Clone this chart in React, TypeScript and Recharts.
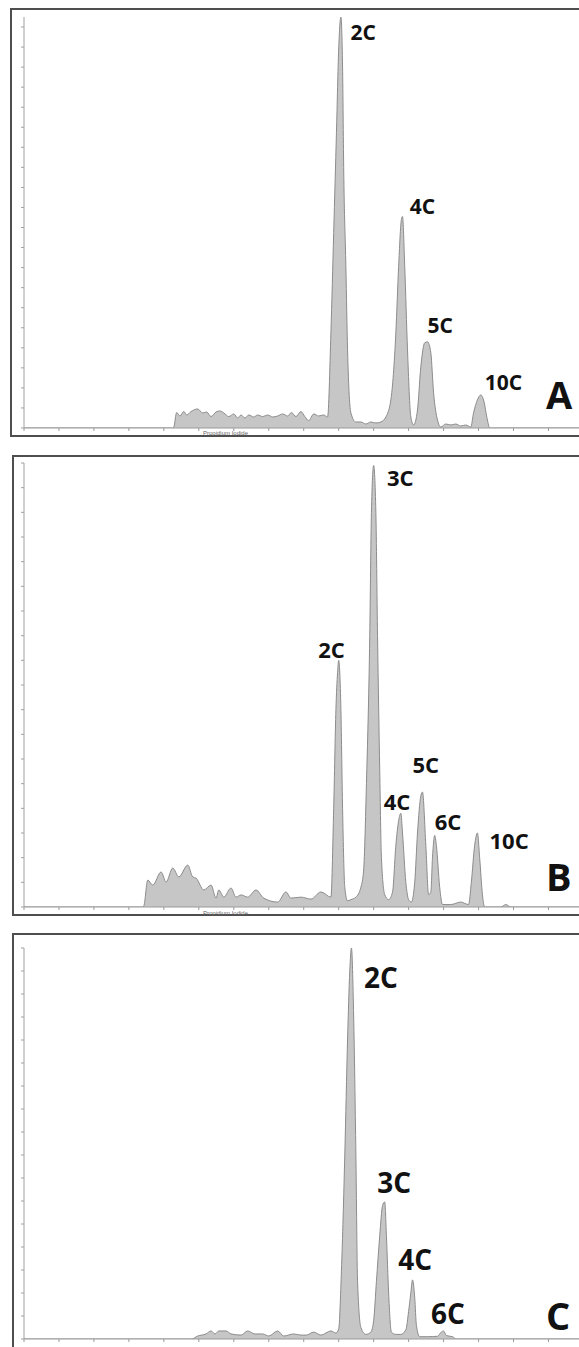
import { AreaChart, Area, XAxis, YAxis, ReferenceDot } from "recharts";

// PI histograms: [channel (0-1000), events]
const histA: [number, number][] = [
  [0, 0], [268, 0], [270, 0.5], [275, 7.7], [281, 6], [288, 8.2], [293, 6.5], [301, 8.2],
  [313, 9.5], [322, 7.5], [329, 8], [337, 5.7], [346, 8], [353, 8.5], [360, 7.5], [369, 5.7],
  [378, 7], [385, 5], [391, 6.5], [398, 5], [405, 6.5], [414, 5.5], [421, 6.5], [430, 5.7],
  [439, 6.5], [448, 5.5], [457, 6], [466, 7], [475, 6], [482, 7.7], [490, 5.7], [499, 8.2],
  [506, 5.7], [513, 3.7], [522, 7], [531, 6], [540, 6.5], [547, 5.5], [553, 47.5], [558, 97.5],
  [563, 147.5], [567, 189], [571, 205], [574, 180], [576, 130], [580, 80], [583, 39], [589, 7.5],
  [598, 3], [607, 3], [616, 2], [625, 3], [634, 2.5], [643, 3], [652, 5.5], [661, 14],
  [670, 47.5], [675, 80.5], [680, 104], [682, 105.5], [686, 80.5], [691, 39], [697, 5.5], [702, 1.5],
  [709, 9], [715, 30.5], [722, 42.5], [727, 43], [733, 37.5], [738, 17.5], [745, 4], [751, 0.5],
  [760, 2], [769, 1.5], [778, 2], [787, 1], [796, 1.5], [805, 0.5], [810, 7.5], [817, 14],
  [823, 16.5], [828, 14], [835, 4], [839, 0], [1000, 0],
];

const histB: [number, number][] = [
  [0, 0], [214, 0], [216, 0.5], [223, 10.9], [232, 8.9], [247, 14.2], [256, 10.1], [268, 15.8],
  [279, 12.2], [295, 17], [304, 12.2], [310, 11.7], [324, 6.9], [337, 8.9], [346, 3.6], [351, 6.9],
  [360, 4], [373, 7.7], [382, 4], [391, 4.9], [403, 4], [418, 6.9], [432, 3.6], [457, 2],
  [472, 6.1], [481, 3.6], [499, 4], [517, 3.2], [535, 6.1], [553, 4], [558, 40], [562, 80],
  [565, 95], [567, 100], [571, 80], [574, 40], [578, 8], [583, 2.5], [589, 3], [598, 4],
  [607, 8], [612, 15], [617, 50], [623, 110], [626, 160], [630, 179], [634, 160], [637, 110],
  [641, 55], [644, 20], [650, 5], [657, 3], [664, 6], [670, 25], [675, 35], [679, 38],
  [682, 30], [688, 10], [693, 3], [698, 2], [704, 10], [709, 30], [715, 45], [718, 46.6],
  [724, 25], [729, 5], [733, 6], [736, 20], [740, 29], [743, 25], [749, 8], [754, 1],
  [769, 1], [787, 2], [801, 1], [806, 10], [812, 25], [817, 30], [821, 20], [826, 5],
  [830, 0], [859, 0], [868, 1], [877, 0], [1000, 0],
];

const histC: [number, number][] = [
  [0, 0], [302, 0], [313, 1.3], [328, 2.2], [337, 3.5], [344, 2.2], [351, 3.5], [364, 3.5],
  [373, 2.2], [391, 1.7], [403, 3.5], [416, 2.2], [430, 2.2], [441, 1.3], [457, 3.5], [468, 1.3],
  [486, 2.2], [499, 1.7], [509, 1.7], [522, 3], [535, 1.7], [553, 3.5], [562, 2.6], [567, 4.3],
  [572, 30], [578, 80], [583, 130], [587, 160], [590, 170], [594, 140], [598, 80], [601, 25],
  [607, 5], [616, 2], [625, 3], [630, 8], [635, 25], [641, 45], [646, 58], [650, 59.6],
  [653, 45], [657, 20], [662, 3], [670, 2], [679, 2], [688, 4], [693, 12], [697, 20],
  [700, 25.7], [704, 18], [707, 6], [713, 1], [727, 1], [745, 1.2], [752, 3], [756, 3.5],
  [761, 1.5], [772, 1], [779, 0], [1000, 0],
];

// peak labels, placed in data space
const labelsA = [
  { text: "2C", ch: 611, count: 197 },
  { text: "4C", ch: 718, count: 110.7 },
  { text: "5C", ch: 750, count: 51 },
  { text: "10C", ch: 864, count: 22.7 },
];
const labelsB = [
  { text: "3C", ch: 678, count: 174 },
  { text: "2C", ch: 554, count: 104 },
  { text: "5C", ch: 724, count: 57.3 },
  { text: "4C", ch: 672, count: 42.3 },
  { text: "6C", ch: 764, count: 34.2 },
  { text: "10C", ch: 874, count: 26.5 },
];
const labelsC = [
  { text: "2C", ch: 643, count: 157 },
  { text: "3C", ch: 667, count: 67.9 },
  { text: "4C", ch: 705, count: 34.4 },
  { text: "6C", ch: 764, count: 10.9 },
];

const channelTicks = [0, 63, 126, 189, 252, 315, 378, 441, 504, 567, 630, 693, 756, 819, 882, 945];
const ticksA = [0, 10, 20, 30, 40, 50, 60, 70, 80, 90, 100, 110, 120, 130, 140, 150, 160, 170, 180, 190, 200];
const ticksB = [0, 10, 20, 30, 40, 50, 60, 70, 80, 90, 100, 110, 120, 130, 140, 150, 160, 170, 180];
const ticksC = [0, 10, 20, 30, 40, 50, 60, 70, 80, 90, 100, 110, 120, 130, 140, 150, 160, 170];

const axisLabel = "Propidium Iodide";

const noTick = () => <g />;

type Lbl = { text: string; ch: number; count: number };

const Panel = ({
  hist, labels, yMax, yTicks, top, marginTop, height, fontSize,
}: {
  hist: [number, number][]; labels: Lbl[]; yMax: number; yTicks: number[];
  top: number; marginTop: number; height: number; fontSize: number;
}) => {
  const data = hist.map(([ch, count]) => ({ ch, count }));
  return (
    <div style={{ position: "absolute", left: 0, top }}>
      <AreaChart width={579} height={height} data={data}
        margin={{ top: marginTop, right: 0, bottom: 0, left: 1 }}>
        <XAxis type="number" dataKey="ch" domain={[0, 1000]} ticks={channelTicks} interval={0}
          height={22} tick={noTick} tickSize={3}
          axisLine={{ stroke: "#9a9a9a" }} tickLine={{ stroke: "#9a9a9a" }} />
        <YAxis type="number" domain={[0, yMax]} ticks={yTicks} interval={0} width={23}
          allowDataOverflow tick={noTick} tickSize={3}
          axisLine={{ stroke: "#a0a0a0" }} tickLine={{ stroke: "#a0a0a0" }} />
        <Area type="monotone" dataKey="count" stroke="#8c8c8c" strokeWidth={1}
          fill="#c6c6c6" fillOpacity={1} dot={false} activeDot={false}
          isAnimationActive={false} />
        {labels.map((l) => (
          <ReferenceDot key={l.text} x={l.ch} y={l.count} r={0} ifOverflow="visible"
            label={{
              value: l.text, position: "center", fill: "#111", fontSize,
              fontWeight: 700, fontFamily: "Open Sans",
            }} />
        ))}
      </AreaChart>
    </div>
  );
};

const frame = (top: number, left: number, height: number) => ({
  position: "absolute" as const, top, left, width: 620, height,
  border: "2px solid #4e4e4e", boxSizing: "border-box" as const,
});

const letter = (top: number) => ({
  position: "absolute" as const, left: 546, top, fontFamily: "Open Sans",
  fontWeight: 700, fontSize: 38, lineHeight: "38px", color: "#111",
});

const tiny = (top: number) => ({
  position: "absolute" as const, left: 203, top, fontFamily: "Liberation Sans",
  fontSize: 6, lineHeight: "6px", color: "#666",
});

export default function App() {
  return (
    <div style={{ position: "absolute", left: 0, top: 0, width: 579, height: 1347,
      overflow: "hidden", background: "#fff" }}>
      <div style={frame(8, 10, 429)} />
      <div style={frame(455, 12, 461)} />
      <div style={frame(933, 12, 440)} />
      <Panel hist={histA} labels={labelsA} yMax={205} yTicks={ticksA}
        top={0} marginTop={17} height={450} fontSize={21} />
      <Panel hist={histB} labels={labelsB} yMax={180} yTicks={ticksB}
        top={455} marginTop={8} height={474} fontSize={22} />
      <Panel hist={histC} labels={labelsC} yMax={170} yTicks={ticksC}
        top={933} marginTop={15} height={428} fontSize={28} />
      <div style={tiny(430)}>{axisLabel}</div>
      <div style={tiny(910)}>{axisLabel}</div>
      <div style={letter(375)}>A</div>
      <div style={letter(857)}>B</div>
      <div style={letter(1296)}>C</div>
    </div>
  );
}
